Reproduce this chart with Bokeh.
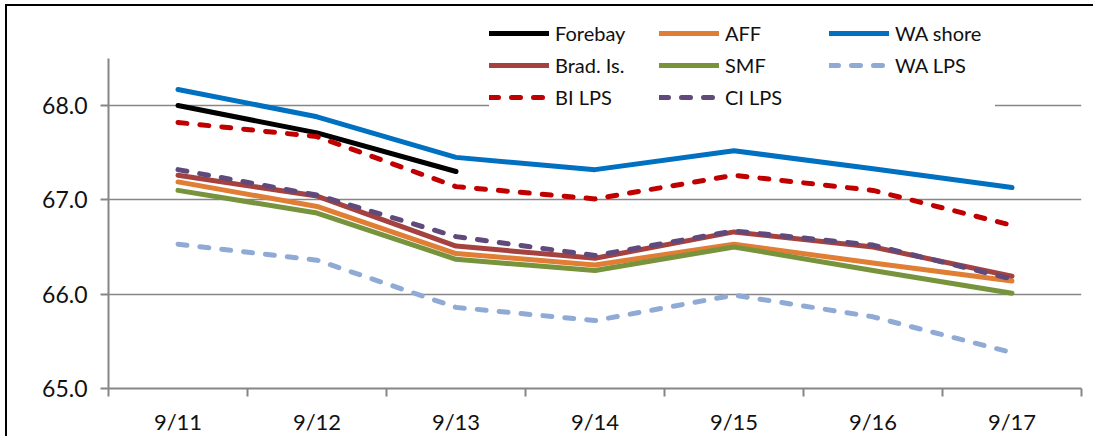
from bokeh.plotting import figure
from bokeh.models import ColumnDataSource, Range1d, FixedTicker, Legend, LegendItem, NumeralTickFormatter
from bokeh.embed import file_html
from bokeh.resources import INLINE

dates = ["9/11", "9/12", "9/13", "9/14", "9/15", "9/16", "9/17"]
forebay = [68.00, 67.71, 67.30, None, None, None, None]
aff = [67.19, 66.93, 66.43, 66.31, 66.53, 66.33, 66.14]
wa_shore = [68.17, 67.88, 67.45, 67.32, 67.52, 67.33, 67.13]
brad_is = [67.26, 67.04, 66.51, 66.38, 66.66, 66.50, 66.19]
smf = [67.10, 66.86, 66.37, 66.25, 66.50, 66.25, 66.01]
wa_lps = [66.53, 66.36, 65.86, 65.72, 65.99, 65.76, 65.38]
bi_lps = [67.82, 67.67, 67.14, 67.01, 67.26, 67.10, 66.73]
ci_lps = [67.32, 67.05, 66.61, 66.41, 66.67, 66.52, 66.16]
y_ticks = [65, 66, 67, 68]

series = [
    ("Forebay", forebay, "#000000", "solid"),
    ("AFF", aff, "#E07E35", "solid"),
    ("WA shore", wa_shore, "#0070C0", "solid"),
    ("Brad. Is.", brad_is, "#A5423F", "solid"),
    ("SMF", smf, "#77933C", "solid"),
    ("WA LPS", wa_lps, "#8FAAD4", "dashed"),
    ("BI LPS", bi_lps, "#C00000", "dashed"),
    ("CI LPS", ci_lps, "#604A7B", "dashed"),
]

FONT = "Lato"
GRAY = "#868686"
Y_AXIS_TOP = 68.5
Y_VIEW_TOP = 69.007

p = figure(width=1088, height=432, x_range=Range1d(-0.5, 6.5), y_range=Range1d(65, Y_VIEW_TOP),
           output_backend="svg", toolbar_location=None,
           min_border_left=101, min_border_right=14, min_border_top=4, min_border_bottom=50)
p.styles = {"margin-left": "5px", "margin-top": "4px",
            "border-left": "2px solid black", "border-top": "2px solid black"}
p.outline_line_color = None

xs = list(range(len(dates)))
renderers = {}
for name, vals, color, style in series:
    ys = [float("nan") if v is None else v for v in vals]
    src = ColumnDataSource(dict(x=xs, y=ys))
    kw = dict(line_color=color, line_width=5, line_join="round", line_cap="round")
    if style == "dashed":
        kw.update(line_dash="9 13")
    renderers[name] = p.line("x", "y", source=src, **kw)

# x axis
p.xaxis.ticker = FixedTicker(ticks=xs, minor_ticks=[i - 0.5 for i in range(len(dates) + 1)])
p.xaxis.major_label_overrides = {i: d for i, d in enumerate(dates)}
p.xaxis.major_tick_line_color = None
p.xaxis.major_tick_out = 0
p.xaxis.major_tick_in = 0
p.xaxis.minor_tick_out = 8
p.xaxis.minor_tick_in = 0
p.xaxis.minor_tick_line_color = GRAY
p.xaxis.minor_tick_line_width = 2
p.xaxis.major_label_standoff = 11
p.xaxis.major_label_text_font_size = "22px"
p.xgrid.grid_line_color = None

# y axis
p.yaxis.ticker = FixedTicker(ticks=y_ticks, minor_ticks=[])
p.yaxis.formatter = NumeralTickFormatter(format="0.0")
p.yaxis.bounds = (65, Y_AXIS_TOP)
p.yaxis.major_tick_out = 8
p.yaxis.major_tick_in = 0
p.yaxis.major_tick_line_color = GRAY
p.yaxis.major_tick_line_width = 2
p.yaxis.minor_tick_line_color = None
p.yaxis.major_label_standoff = 13
p.yaxis.major_label_text_align = "right"
p.yaxis.major_label_text_font_size = "23px"
p.ygrid.ticker = FixedTicker(ticks=y_ticks[1:])
p.ygrid.grid_line_color = GRAY
p.ygrid.grid_line_width = 1.5

for ax in (p.xaxis, p.yaxis):
    ax.axis_line_color = GRAY
    ax.axis_line_width = 2
    ax.major_label_text_font = FONT
    ax.major_label_text_color = "#111111"

order = ["Forebay", "Brad. Is.", "BI LPS", "AFF", "SMF", "CI LPS", "WA shore", "WA LPS"]
legend = Legend(items=[LegendItem(label=n, renderers=[renderers[n]]) for n in order],
                orientation="vertical", nrows=3, location=(381, 277),
                glyph_width=60, glyph_height=28, label_height=28, label_width=100,
                label_standoff=6, spacing=4, padding=6, margin=0,
                label_text_font=FONT, label_text_font_size="20px", label_text_color="#111111",
                background_fill_color="white", background_fill_alpha=1.0,
                border_line_color=None)
p.add_layout(legend, "center")

open("out.html", "w").write(file_html(p, INLINE))
